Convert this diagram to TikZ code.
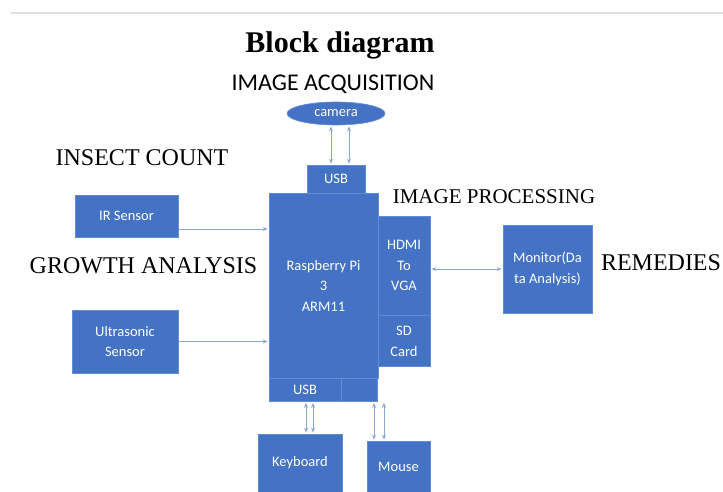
\documentclass[tikz,border=0pt]{standalone}
\usepackage{fontspec}
\setmainfont{Liberation Serif}
\newfontfamily\boxfont{Carlito}
\usetikzlibrary{arrows.meta,positioning,shapes.geometric}
\definecolor{blockblue}{RGB}{68,114,196}
\definecolor{blockedge}{RGB}{100,140,212}
\definecolor{linkgray}{RGB}{140,165,210}
\begin{document}
\begin{tikzpicture}[
			x=1pt,y=-1pt,
			>={Stealth[length=5pt,width=4pt]},
			title/.style={
				font=\fontsize{30}{34}\selectfont\bfseries,
				anchor=base,
				inner sep=0pt
			},
			stage/.style={
				font=\fontsize{24}{28}\selectfont,
				anchor=base,
				inner sep=0pt
			},
			block/.style={
				rectangle,
				fill=blockblue,
				draw=blockedge,
				line width=0.6pt,
				text=white,
				align=center,
				inner sep=1pt,
				font=\boxfont\fontsize{14.5}{20.5}\selectfont
			},
			arrow/.style={
				draw=linkgray,
				line width=1pt,
				shorten >=1pt,
				shorten <=1pt
			}
			]
			\useasboundingbox (0,0) rectangle (723,492);

			% page rule and headings
			\draw[gray!25,line width=2pt] (11,13) -- (723,13);
			\node[title] (heading) at (340,53) {Block diagram};
			\node[stage,font=\boxfont\fontsize{24}{28}\selectfont] (acq) at (333,91) {IMAGE ACQUISITION};
			\node[stage] (insect) at (142,166) {INSECT COUNT};
			\node[stage] (growth) at (143.5,273) {GROWTH ANALYSIS};
			\node[stage,font=\fontsize{21}{25}\selectfont] (process) at (494,203) {IMAGE PROCESSING};
			\node[stage] (remedy) at (661,270) {REMEDIES};

			% board
			\node[block,minimum width=109,minimum height=185] (rpi) at (323.5,285.5)
			{Raspberry Pi\\3\\ARM11};
			\node[block,minimum width=58,minimum height=28] (usbtop) at (336,179) {USB};
			\node[block,anchor=north west,minimum width=72,minimum height=23] (usbbot)
				at (rpi.south west) {USB};
			\node[block,anchor=north west,minimum width=36,minimum height=23] (spare)
				at (usbbot.north east) {};
			\node[block,minimum width=52,minimum height=99] (hdmi) at (404,265.5)
			{HDMI\\To\\VGA};
			\node[block,below=0pt of hdmi,minimum width=52,minimum height=51] (sdcard)
			{SD\\Card};

			% peripherals
			\node[block,ellipse,minimum width=98,minimum height=23,inner sep=0pt] (camera)
				at (336,113.5) {camera};
			\node[block,minimum width=103,minimum height=42] (irsensor) at (126.5,216) {IR Sensor};
			\node[block,minimum width=106,minimum height=63] (ultra) at (125,341.5)
			{Ultrasonic\\Sensor};
			\node[block,minimum width=89,minimum height=88] (monitor) at (547.5,269)
			{Monitor(Da\\ta Analysis)};
			\node[block,minimum width=84,minimum height=58] (keyboard) at (300,463) {Keyboard};
			\node[block,minimum width=63,minimum height=51] (mouse) at (398.5,466.5) {Mouse};

			% links
			\draw[arrow,->] ([yshift=-13pt]irsensor.east) -- ([yshift=-13pt]irsensor.east -| rpi.west);
			\draw[arrow,->] (ultra.east) -- (ultra.east -| rpi.west);
			\draw[arrow,<->] (monitor.west -| hdmi.east) -- (monitor.west);
			\foreach \dx in {-5,13}
				\draw[arrow,<->] ([xshift=\dx pt]usbtop.north) -- ([xshift=\dx pt]usbtop.north |- camera.south);
			\foreach \dx in {1,8}
				\draw[arrow,<->] ([xshift=\dx pt]usbbot.south) -- ([xshift=\dx pt]usbbot.south |- keyboard.north);
			\foreach \dx in {-24.5,-14.5}
				\draw[arrow,<->] ([xshift=\dx pt]mouse.north |- spare.south) -- ([xshift=\dx pt]mouse.north);

		\end{tikzpicture}
\end{document}
